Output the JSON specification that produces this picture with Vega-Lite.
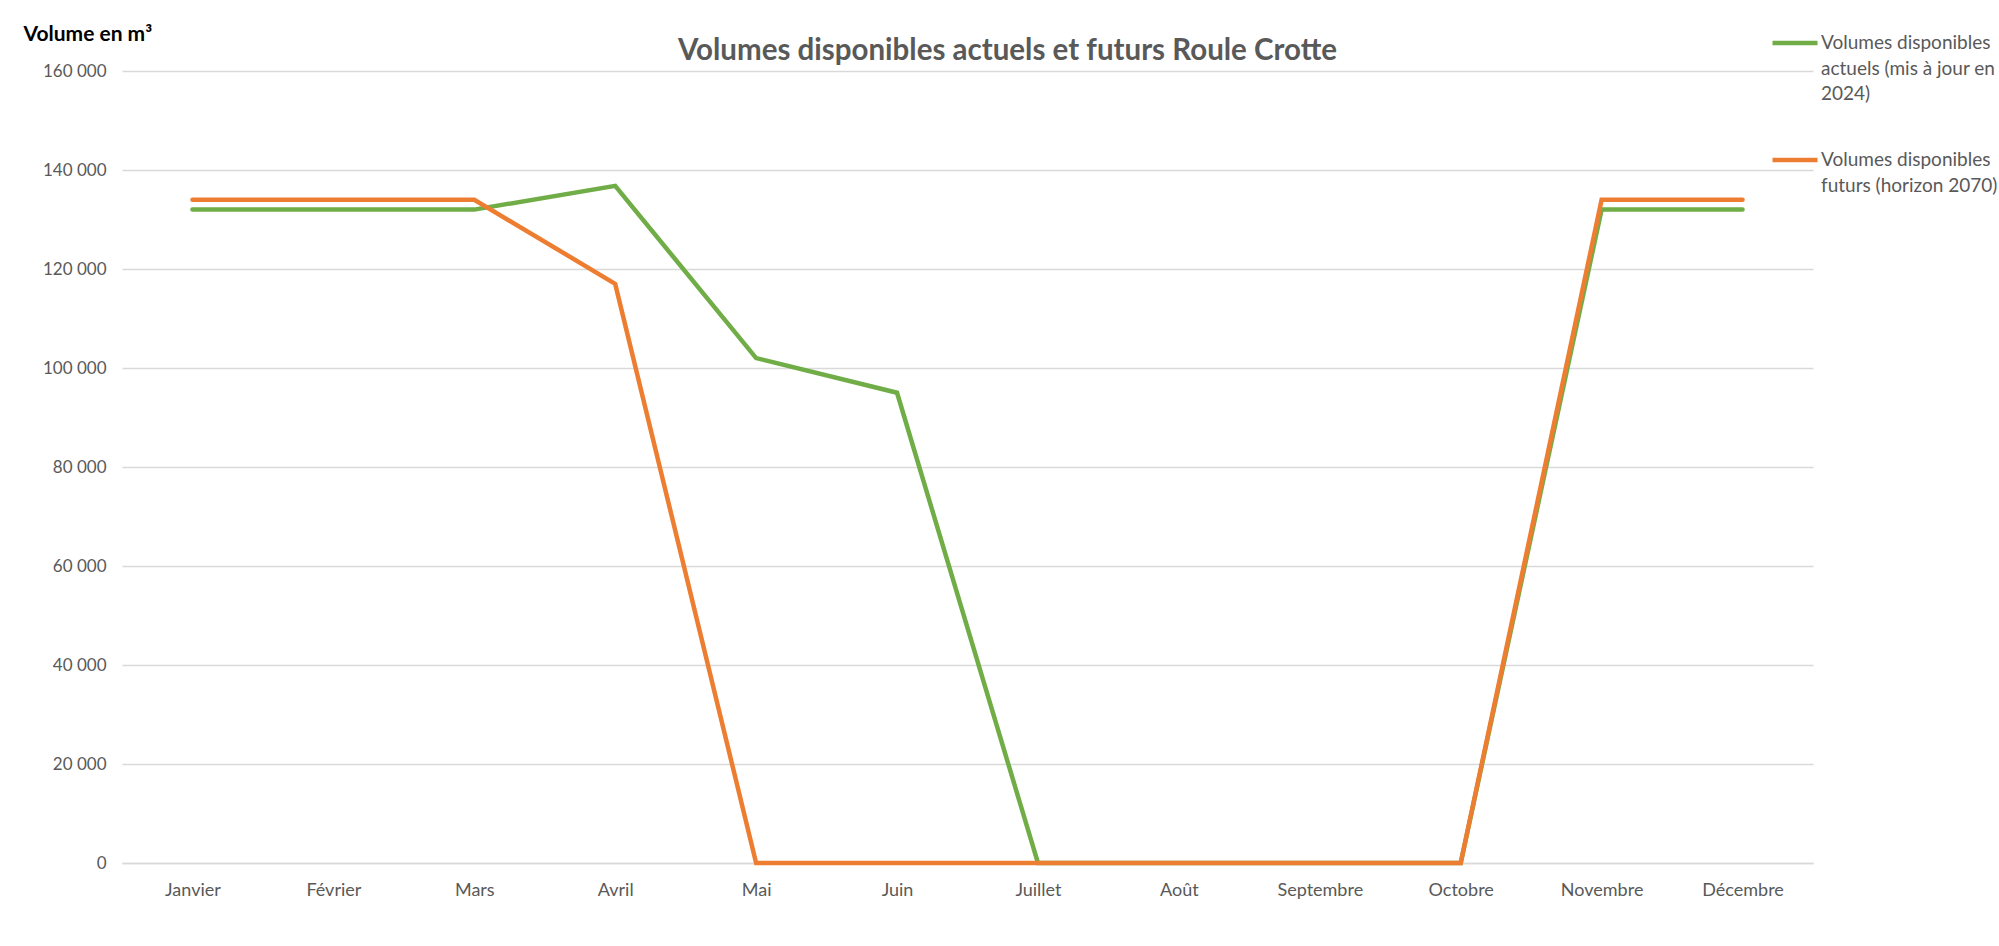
{
  "$schema": "https://vega.github.io/schema/vega-lite/v6.json",
  "width": 1691,
  "height": 792,
  "autosize": {"type": "none"},
  "padding": {"left": 122, "top": 71, "right": 186, "bottom": 83},
  "background": "white",
  "config": {"view": {"stroke": null}, "font": "Lato"},
  "title": {
    "text": "Volumes disponibles actuels et futurs Roule Crotte",
    "fontSize": 29.5,
    "font": "Lato",
    "fontWeight": "bold",
    "color": "#595959",
    "anchor": "middle",
    "dx": 40,
    "dy": 58,
    "offset": 10
  },
  "data": {
    "values": [
      {"mois": "Janvier", "serie": "Volumes disponibles actuels (mis à jour en 2024)", "volume": 132000},
      {"mois": "Février", "serie": "Volumes disponibles actuels (mis à jour en 2024)", "volume": 132000},
      {"mois": "Mars", "serie": "Volumes disponibles actuels (mis à jour en 2024)", "volume": 132000},
      {"mois": "Avril", "serie": "Volumes disponibles actuels (mis à jour en 2024)", "volume": 136800},
      {"mois": "Mai", "serie": "Volumes disponibles actuels (mis à jour en 2024)", "volume": 102000},
      {"mois": "Juin", "serie": "Volumes disponibles actuels (mis à jour en 2024)", "volume": 95000},
      {"mois": "Juillet", "serie": "Volumes disponibles actuels (mis à jour en 2024)", "volume": 0},
      {"mois": "Août", "serie": "Volumes disponibles actuels (mis à jour en 2024)", "volume": 0},
      {"mois": "Septembre", "serie": "Volumes disponibles actuels (mis à jour en 2024)", "volume": 0},
      {"mois": "Octobre", "serie": "Volumes disponibles actuels (mis à jour en 2024)", "volume": 0},
      {"mois": "Novembre", "serie": "Volumes disponibles actuels (mis à jour en 2024)", "volume": 132000},
      {"mois": "Décembre", "serie": "Volumes disponibles actuels (mis à jour en 2024)", "volume": 132000},
      {"mois": "Janvier", "serie": "Volumes disponibles futurs (horizon 2070)", "volume": 134000},
      {"mois": "Février", "serie": "Volumes disponibles futurs (horizon 2070)", "volume": 134000},
      {"mois": "Mars", "serie": "Volumes disponibles futurs (horizon 2070)", "volume": 134000},
      {"mois": "Avril", "serie": "Volumes disponibles futurs (horizon 2070)", "volume": 117000},
      {"mois": "Mai", "serie": "Volumes disponibles futurs (horizon 2070)", "volume": 0},
      {"mois": "Juin", "serie": "Volumes disponibles futurs (horizon 2070)", "volume": 0},
      {"mois": "Juillet", "serie": "Volumes disponibles futurs (horizon 2070)", "volume": 0},
      {"mois": "Août", "serie": "Volumes disponibles futurs (horizon 2070)", "volume": 0},
      {"mois": "Septembre", "serie": "Volumes disponibles futurs (horizon 2070)", "volume": 0},
      {"mois": "Octobre", "serie": "Volumes disponibles futurs (horizon 2070)", "volume": 0},
      {"mois": "Novembre", "serie": "Volumes disponibles futurs (horizon 2070)", "volume": 134000},
      {"mois": "Décembre", "serie": "Volumes disponibles futurs (horizon 2070)", "volume": 134000}
    ]
  },
  "mark": {"type": "line", "strokeWidth": 4.5, "strokeCap": "round", "strokeJoin": "miter"},
  "encoding": {
    "x": {
      "field": "mois",
      "type": "ordinal",
      "sort": ["Janvier", "Février", "Mars", "Avril", "Mai", "Juin", "Juillet", "Août", "Septembre", "Octobre", "Novembre", "Décembre"],
      "scale": {"type": "point", "padding": 0.5},
      "axis": {
        "title": null,
        "labelAngle": 0,
        "ticks": false,
        "grid": false,
        "domain": true,
        "domainColor": "#D9D9D9",
        "domainWidth": 1.5,
        "labelFont": "Lato",
        "labelFontSize": 18,
        "labelColor": "#595959",
        "labelBaseline": "top",
        "labelPadding": 18
      }
    },
    "y": {
      "field": "volume",
      "type": "quantitative",
      "scale": {"domain": [0, 160000], "nice": false},
      "axis": {
        "values": [0, 20000, 40000, 60000, 80000, 100000, 120000, 140000, 160000],
        "labelExpr": "replace(format(datum.value, ','), ',', ' ')",
        "ticks": false,
        "domain": false,
        "grid": true,
        "gridColor": "#D9D9D9",
        "gridWidth": 1.5,
        "labelFont": "Lato",
        "labelFontSize": 17,
        "labelColor": "#595959",
        "labelPadding": 16,
        "title": "Volume en m³",
        "titleAngle": 0,
        "titleAlign": "left",
        "titleBaseline": "middle",
        "titleX": -99,
        "titleY": -37,
        "titleFont": "Lato",
        "titleFontSize": 21,
        "titleFontWeight": "bold",
        "titleColor": "#000000"
      }
    },
    "color": {
      "field": "serie",
      "type": "nominal",
      "scale": {
        "domain": ["Volumes disponibles actuels (mis à jour en 2024)", "Volumes disponibles futurs (horizon 2070)"],
        "range": ["#70AD47", "#ED7D31"]
      },
      "legend": {
        "orient": "none",
        "legendX": 1648,
        "legendY": -53,
        "padding": 0,
        "title": null,
        "symbolType": "stroke",
        "symbolSize": 2025,
        "symbolStrokeWidth": 4.5,
        "labelFont": "Lato",
        "labelFontSize": 19,
        "labelColor": "#595959",
        "labelOffset": 1,
        "labelLimit": 600,
        "labelBaseline": "alphabetic",
        "rowPadding": 31,
        "labelExpr": "datum.label == 'Volumes disponibles actuels (mis à jour en 2024)' ? ['Volumes disponibles', 'actuels (mis à jour en', '2024)'] : ['Volumes disponibles', 'futurs (horizon 2070)']",
        "encode": {
          "labels": {"update": {"dy": {"value": 6}, "lineHeight": {"value": 25.5}}}
        }
      }
    }
  }
}
